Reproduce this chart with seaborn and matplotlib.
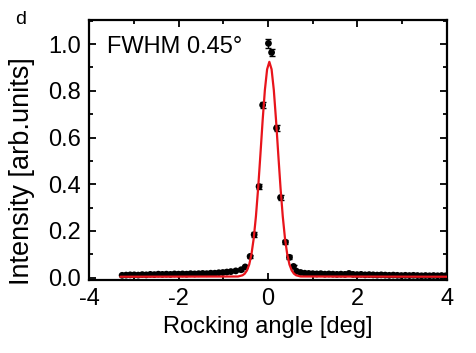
import numpy as np
import pandas as pd
import matplotlib
matplotlib.use("Agg")
import matplotlib.pyplot as plt
import seaborn as sns
from matplotlib.ticker import MultipleLocator, FormatStrFormatter

# measured points (rocking curve)
angle_left = [-3.26, -3.17, -3.08, -2.99, -2.90, -2.81, -2.72, -2.63, -2.54, -2.45,
              -2.36, -2.27, -2.18, -2.09, -2.00, -1.91, -1.82, -1.73, -1.64, -1.55,
              -1.46, -1.37, -1.28, -1.19, -1.10, -1.01, -0.92, -0.83, -0.72]
int_left = [0.010, 0.011, 0.012, 0.012, 0.011, 0.013, 0.012, 0.014, 0.013, 0.015,
            0.014, 0.015, 0.014, 0.016, 0.015, 0.016, 0.015, 0.017, 0.016, 0.017,
            0.018, 0.017, 0.019, 0.019, 0.021, 0.022, 0.024, 0.026, 0.029]

angle_peak = [-0.60, -0.51, -0.40, -0.31, -0.20, -0.12, 0.01, 0.08, 0.19, 0.28,
              0.39, 0.48, 0.57, 0.64]
int_peak = [0.034, 0.046, 0.091, 0.184, 0.390, 0.739, 1.003, 0.964, 0.640, 0.343,
            0.152, 0.087, 0.048, 0.027]
err_peak = [0.004, 0.005, 0.008, 0.010, 0.012, 0.014, 0.018, 0.016, 0.014, 0.012,
            0.010, 0.008, 0.005, 0.004]

angle_right = [0.73, 0.82, 0.91, 1.00, 1.09, 1.18, 1.27, 1.36, 1.45, 1.54,
               1.63, 1.72, 1.81, 1.90, 1.99, 2.08, 2.17, 2.26, 2.35, 2.44,
               2.53, 2.62, 2.71, 2.80, 2.89, 2.98, 3.07, 3.16, 3.25, 3.34,
               3.43, 3.52, 3.61, 3.70, 3.79, 3.88, 3.97]
int_right = [0.022, 0.019, 0.018, 0.017, 0.016, 0.017, 0.015, 0.016, 0.015, 0.014,
             0.015, 0.014, 0.018, 0.014, 0.013, 0.014, 0.012, 0.013, 0.012, 0.011,
             0.012, 0.011, 0.010, 0.011, 0.010, 0.009, 0.010, 0.009, 0.010, 0.009,
             0.008, 0.009, 0.008, 0.009, 0.008, 0.009, 0.008]

# gaussian fit curve
fit_angle = [-3.30, -0.67, -0.57, -0.52, -0.47, -0.42, -0.37, -0.32, -0.27, -0.22,
             -0.17, -0.12, -0.07, -0.02, 0.03, 0.08, 0.13, 0.18, 0.23, 0.28,
             0.33, 0.38, 0.43, 0.48, 0.53, 0.58, 0.63, 0.73, 4.00]
fit_int = [0.004, 0.005, 0.010, 0.017, 0.031, 0.056, 0.100, 0.167, 0.262, 0.384,
           0.526, 0.673, 0.803, 0.892, 0.924, 0.892, 0.803, 0.673, 0.526, 0.384,
           0.262, 0.167, 0.100, 0.056, 0.031, 0.017, 0.010, 0.005, 0.004]

points = pd.DataFrame({
    "angle": angle_left + angle_peak + angle_right,
    "intensity": int_left + int_peak + int_right,
})
fit = pd.DataFrame({"angle": fit_angle, "intensity": fit_int})

sns.set_style("ticks", {"axes.edgecolor": "black", "text.color": "black",
                        "axes.labelcolor": "black", "xtick.color": "black",
                        "ytick.color": "black"})
plt.rcParams["font.family"] = ["Liberation Sans", "DejaVu Sans"]
plt.rcParams["axes.unicode_minus"] = False

fig = plt.figure(figsize=(4.77, 3.53), dpi=100)
ax = fig.add_axes([0.1866, 0.2068, 0.7505, 0.7365])

sns.scatterplot(data=points, x="angle", y="intensity", ax=ax, color="black",
                s=24, edgecolor="none", zorder=2)
ax.errorbar(angle_peak, int_peak, yerr=err_peak, fmt="none", ecolor="black",
            elinewidth=1.0, capsize=2.5, capthick=1.0, zorder=2)
sns.lineplot(data=fit, x="angle", y="intensity", ax=ax, color="#e8141b",
             linewidth=1.6, zorder=3)

ax.set_xlim(-4, 4)
ax.set_ylim(-0.01, 1.103)
ax.xaxis.set_major_locator(MultipleLocator(2))
ax.xaxis.set_minor_locator(MultipleLocator(1))
ax.yaxis.set_major_locator(MultipleLocator(0.2))
ax.yaxis.set_minor_locator(MultipleLocator(0.1))
ax.yaxis.set_major_formatter(FormatStrFormatter("%.1f"))
ax.tick_params(which="both", direction="in", top=True, right=True,
               labelsize=17, width=1.3, pad=6)
ax.tick_params(which="major", length=5)
ax.tick_params(which="minor", length=3)
for s in ax.spines.values():
    s.set_linewidth(1.6)

ax.set_xlabel("Rocking angle [deg]", fontsize=17, labelpad=4)
ax.set_ylabel("Intensity [arb.units]", fontsize=19.5)
ax.yaxis.set_label_coords(-0.15, 0.42)
ax.text(-3.6, 0.987, "FWHM 0.45°", fontsize=17, va="center", ha="left")
fig.text(15 / 477, 1 - 19 / 353, "d", fontsize=14, va="center", ha="left")

fig.savefig("out.png", dpi=100)
